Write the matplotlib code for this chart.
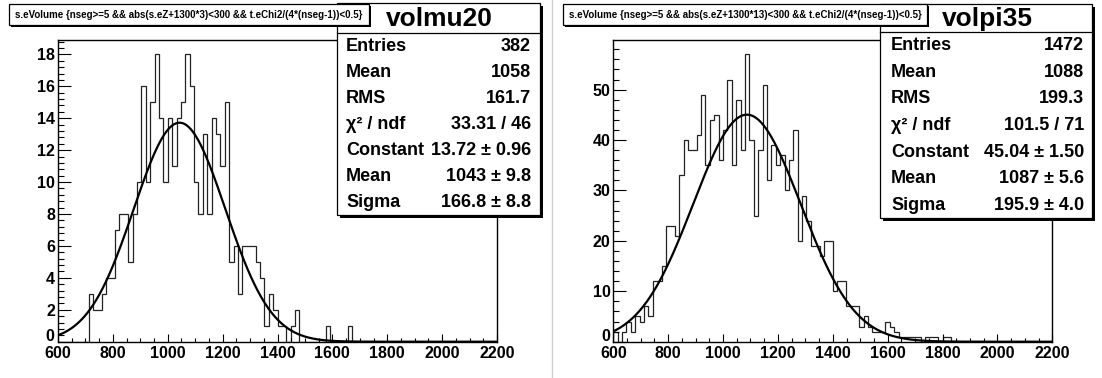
import numpy as np
import matplotlib
matplotlib.use("Agg")
import matplotlib.pyplot as plt
import matplotlib.transforms as mtransforms
from matplotlib.patches import Rectangle
from matplotlib.ticker import MultipleLocator, FuncFormatter

plt.rcParams['font.family'] = ['Liberation Sans', 'DejaVu Sans']
plt.rcParams['font.weight'] = 'bold'

# histogram binning (100 bins of 16)
bin_lo, bin_hi, n_bins = 600, 2200, 100

mu20_counts = [0, 0, 0, 0, 0, 0, 0, 3, 2, 2, 3, 4, 4, 7, 8, 8, 5, 8, 10, 16,
               10, 15, 18, 14, 10, 14, 11, 14, 15, 18, 16, 10, 8, 13, 8, 14, 13, 11, 15, 5,
               6, 3, 6, 6, 6, 5, 4, 1, 3, 2, 1, 1, 0, 1, 2, 0, 0, 0, 0, 0,
               0, 1, 0, 0, 0, 0, 1, 0, 0, 0, 0, 0, 0, 0, 0, 0, 0, 0, 0, 0,
               0, 0, 0, 0, 0, 0, 0, 0, 0, 0, 0, 0, 0, 0, 0, 0, 0, 0, 0, 0]

pi35_counts = [2, 0, 2, 4, 2, 5, 4, 7, 5, 12, 12, 15, 23, 23, 21, 33, 40, 38, 38, 41,
               49, 35, 44, 45, 36, 42, 52, 35, 48, 38, 57, 40, 25, 38, 51, 32, 39, 35, 37, 30,
               36, 42, 20, 29, 24, 19, 19, 17, 20, 20, 10, 12, 12, 7, 7, 7, 3, 5, 3, 2,
               2, 2, 4, 3, 2, 1, 1, 1, 1, 1, 0, 1, 1, 1, 0, 1, 1, 0, 0, 0,
               0, 0, 0, 0, 0, 0, 0, 0, 0, 0, 0, 0, 0, 0, 0, 0, 0, 0, 0, 0]

hist_names = ["volmu20", "volpi35"]
cut_titles = ["s.eVolume {nseg>=5 && abs(s.eZ+1300*3)<300 && t.eChi2/(4*(nseg-1))<0.5}",
              "s.eVolume {nseg>=5 && abs(s.eZ+1300*13)<300 && t.eChi2/(4*(nseg-1))<0.5}"]
entries = ["382", "1472"]
means = ["1058", "1088"]
rms = ["161.7", "199.3"]
chi2_ndf = ["33.31 / 46", "101.5 / 71"]
fit_const = [13.72, 45.04]
fit_const_err = [0.96, 1.50]
fit_mean = [1043, 1087]
fit_mean_err = [9.8, 5.6]
fit_sigma = [166.8, 195.9]
fit_sigma_err = [8.8, 4.0]

W, H = 1102, 378
fig = plt.figure(figsize=(W / 100, H / 100), dpi=100)

# pixel layout of each pad
ax_x0 = [58, 613.3]
ax_w, ax_top, ax_bot = 439, 40, 341.7
y_max = [18.9, 59.85]
y_major = [2, 10]
y_minor = [0.4, 2]
stat_box = [(337, 3, 540, 215, 33), (880, 4, 1092, 218, 32)]
stat_cols = [(346, 531), (891, 1084)]
title_box = [(9, 4, 369, 25), (563, 4, 927, 25)]

edges = np.linspace(bin_lo, bin_hi, n_bins + 1)
xs = np.linspace(bin_lo, bin_hi, 800)
all_counts = [mu20_counts, pi35_counts]

for k in range(2):
    ax = fig.add_axes([ax_x0[k] / W, 1 - ax_bot / H, ax_w / W, (ax_bot - ax_top) / H])
    ax.stairs(all_counts[k], edges, color='#222222', lw=0.9)
    gaus = fit_const[k] * np.exp(-0.5 * ((xs - fit_mean[k]) / fit_sigma[k]) ** 2)
    ax.plot(xs, gaus, color='black', lw=1.6)
    ax.set_xlim(bin_lo, bin_hi)
    ax.set_ylim(0, y_max[k])
    ax.xaxis.set_major_locator(MultipleLocator(200))
    ax.xaxis.set_minor_locator(MultipleLocator(50))
    ax.yaxis.set_major_locator(MultipleLocator(y_major[k]))
    ax.yaxis.set_minor_locator(MultipleLocator(y_minor[k]))
    # the y "0" is drawn by hand a bit higher, so it does not sit on the x "600"
    ax.yaxis.set_major_formatter(FuncFormatter(lambda v, p: "" if v == 0 else f"{v:g}"))
    ax.tick_params(axis='x', which='major', direction='in', length=5.8, width=0.8,
                   labelsize=11.5, pad=3.2)
    ax.tick_params(axis='x', which='minor', direction='in', length=2.9, width=0.8)
    ax.tick_params(axis='y', which='major', direction='in', length=9.4, width=0.8,
                   labelsize=11.5, pad=2)
    ax.tick_params(axis='y', which='minor', direction='in', length=4.6, width=0.8)
    for sp in ax.spines.values():
        sp.set_linewidth(1.0)
    off = mtransforms.ScaledTranslation(-2.5 / 72, 3.5 / 72, fig.dpi_scale_trans)
    ax.text(0, 0, "0", fontsize=11.5, fontweight='bold', ha='right', va='center',
            transform=ax.get_yaxis_transform() + off)

# overlay for boxes in pixel coords
ov = fig.add_axes([0, 0, 1, 1], zorder=10)
ov.set_xlim(0, W)
ov.set_ylim(H, 0)
ov.axis('off')
ov.patch.set_alpha(0)

ov.plot([552, 552], [0, H], color='#d0d0d0', lw=1)

for k in range(2):
    x0, y0, x1, y1, yh = stat_box[k]
    ov.add_patch(Rectangle((x0 + 2.5, y0 + 2.5), x1 - x0, y1 - y0, facecolor='black', edgecolor='none'))
    ov.add_patch(Rectangle((x0, y0), x1 - x0, y1 - y0, facecolor='white', edgecolor='black', lw=0.9))
    ov.plot([x0, x1], [yh, yh], color='black', lw=0.9)
    ov.text((x0 + x1) / 2 + 1, (y0 + yh) / 2 + 1, hist_names[k], fontsize=19, fontweight='bold',
            ha='center', va='center')
    labels = ["Entries", "Mean", "RMS", "\u03c7\u00b2 / ndf", "Constant", "Mean", "Sigma"]
    values = [entries[k], means[k], rms[k], chi2_ndf[k],
              f"{fit_const[k]:.2f} \u00b1 {fit_const_err[k]:.2f}",
              f"{fit_mean[k]:.0f} \u00b1 {fit_mean_err[k]:.1f}",
              f"{fit_sigma[k]:.1f} \u00b1 {fit_sigma_err[k]:.1f}"]
    step = (y1 - yh) / 7
    lx, rx = stat_cols[k]
    for i in range(7):
        yy = yh + step * (i + 0.5) + 0.5
        ov.text(lx, yy, labels[i], fontsize=13, fontweight='bold', ha='left', va='center')
        ov.text(rx, yy, values[i], fontsize=13, fontweight='bold', ha='right', va='center')

    tx0, ty0, tx1, ty1 = title_box[k]
    ov.add_patch(Rectangle((tx0 + 2, ty0 + 2), tx1 - tx0, ty1 - ty0, facecolor='black', edgecolor='none'))
    ov.add_patch(Rectangle((tx0, ty0), tx1 - tx0, ty1 - ty0, facecolor='white', edgecolor='black', lw=0.9))
    ov.text((tx0 + tx1) / 2, (ty0 + ty1) / 2 + 0.5, cut_titles[k], fontsize=7, fontweight='bold',
            ha='center', va='center')

fig.savefig("out.png", dpi=100, facecolor='white')
